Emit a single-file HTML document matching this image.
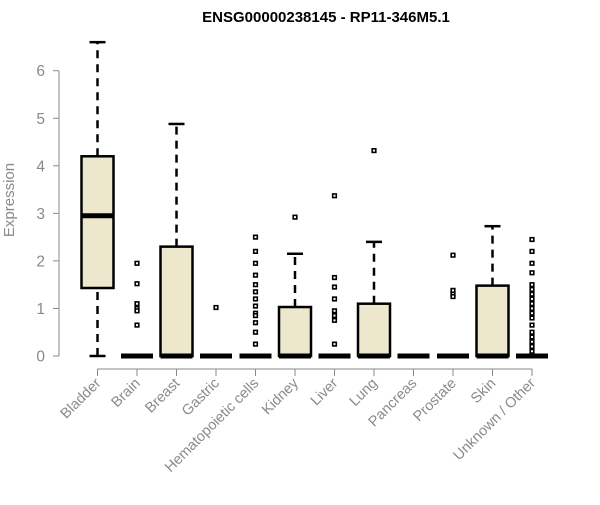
<!DOCTYPE html>
<html><head><meta charset="utf-8"><style>
body{margin:0;background:#fff;font-family:"Liberation Sans",Arial,sans-serif}
</style></head><body>
<svg id="chart" width="600" height="500" viewBox="0 0 600 500" xmlns="http://www.w3.org/2000/svg">
<text x="326" y="22" text-anchor="middle" font-weight="bold" font-size="15" fill="#000">ENSG00000238145 - RP11-346M5.1</text>
<text transform="translate(14,200) rotate(-90)" text-anchor="middle" font-size="15" fill="#8a8a8a">Expression</text>
<g id="axes"></g><g id="marks"></g>
</svg>
<script>
const categories=["Bladder","Brain","Breast","Gastric","Hematopoietic cells","Kidney","Liver","Lung","Pancreas","Prostate","Skin","Unknown / Other"];
const lowerWhisker=[0,0,0,0,0,0,0,0,0,0,0,0];
const q1=[1.43,0,0,0,0,0,0,0,0,0,0,0];
const medians=[2.95,0,0,0,0,0,0,0,0,0,0,0];
const q3=[4.2,0,2.3,0,0,1.03,0,1.1,0,0,1.48,0];
const upperWhisker=[6.6,0,4.88,0,0,2.15,0,2.4,0,0,2.73,0];
const outliers=[[],[1.95,1.52,1.1,1.0,0.95,0.65],[],[1.02],[2.5,2.2,1.95,1.7,1.5,1.35,1.2,1.05,0.9,0.85,0.7,0.5,0.25],[2.92],[3.37,1.65,1.45,1.2,0.95,0.85,0.75,0.25],[4.32],[],[2.12,1.38,1.3,1.25],[],[2.45,2.2,1.95,1.75,1.5,1.4,1.3,1.2,1.1,1.0,0.9,0.8,0.65,0.5,0.4,0.3,0.2,0.1]];
const yTicks=[0,1,2,3,4,5,6];
const NS="http://www.w3.org/2000/svg";
const y=v=>356-v*47.55;
const x=i=>97.5+i*39.5;
const axes=document.getElementById('axes'),marks=document.getElementById('marks');
function mk(tag,attrs,parent){const e=document.createElementNS(NS,tag);for(const k in attrs)e.setAttribute(k,attrs[k]);parent.appendChild(e);return e;}
let e=mk('line',{x1:59,x2:59,y1:y(0),y2:y(6),stroke:'#888'},axes);


yTicks.forEach(t=>{
 let l=mk('line',{x1:53,x2:59,y1:y(t),y2:y(t),stroke:'#888'},axes);
 
 
 let tx=mk('text',{x:45,y:y(t)+5.5,'text-anchor':'end','font-size':15.5,fill:'#8a8a8a'},axes);
 tx.textContent=t;
 
 
});
e=mk('line',{x1:x(0),x2:x(categories.length-1),y1:369,y2:369,stroke:'#888'},axes);


categories.forEach((c,i)=>{
 let l=mk('line',{x1:x(i),x2:x(i),y1:369,y2:376,stroke:'#888'},axes);
 
 
 let tx=mk('text',{x:x(i)+4,y:384,'text-anchor':'end','font-size':14.5,fill:'#8a8a8a',transform:`rotate(-45 ${x(i)+4} 384)`},axes);
 tx.textContent=c;
 
 
 const g=mk('g',{},marks);
 
 
 const cx=x(i),hw=16;
 if(upperWhisker[i]>q3[i]){
  mk('line',{x1:cx,x2:cx,y1:y(q3[i]),y2:y(upperWhisker[i]),stroke:'#000','stroke-width':2.5,'stroke-dasharray':'8,6'},g);
  mk('line',{x1:cx-8,x2:cx+8,y1:y(upperWhisker[i]),y2:y(upperWhisker[i]),stroke:'#000','stroke-width':2.5},g);
 }
 if(q1[i]>lowerWhisker[i]){
  mk('line',{x1:cx,x2:cx,y1:y(lowerWhisker[i]),y2:y(q1[i]),stroke:'#000','stroke-width':2.5,'stroke-dasharray':'8,6'},g);
  mk('line',{x1:cx-8,x2:cx+8,y1:y(lowerWhisker[i]),y2:y(lowerWhisker[i]),stroke:'#000','stroke-width':2.5},g);
 }
 if(q3[i]>q1[i]){
  let r=mk('rect',{x:cx-hw,y:y(q3[i]),width:hw*2,height:y(q1[i])-y(q3[i]),fill:'#ede7cd',stroke:'#000','stroke-width':2.5},g);
  
  
 }
 let m=mk('line',{x1:cx-hw,x2:cx+hw,y1:y(medians[i]),y2:y(medians[i]),stroke:'#000','stroke-width':5},g);
 
 
 outliers[i].forEach(v=>{
  let p=mk('rect',{x:cx-1.8,y:y(v)-1.8,width:3.6,height:3.6,fill:'#fff',stroke:'#000','stroke-width':1.6},g);
  
  
 });
});
</script>
</body></html>
